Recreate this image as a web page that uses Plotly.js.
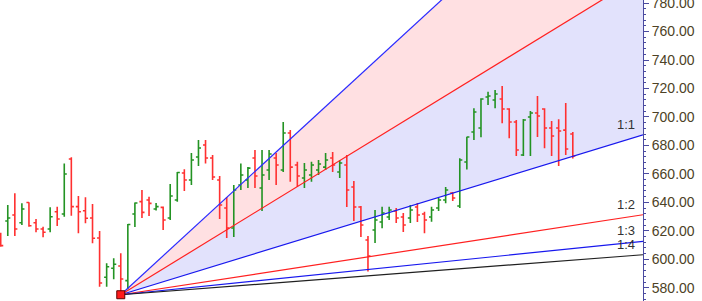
<!DOCTYPE html>
<html><head><meta charset="utf-8">
<script src="https://cdn.plot.ly/plotly-3.0.1.min.js"></script>
<style>html,body{margin:0;padding:0;background:#fff}#chart{width:702px;height:301px}</style>
</head><body><div id="chart"></div>
<script>
// OHLC values (bar index 0..81)
const barOpen  = [616.4,626.9,631.1,625.7,639.9,625.7,621.3,621.3,633.4,631.8,670.5,637.0,634.1,629.0,615.0,587.4,593.7,595.3,585.0,631.8,640.5,641.7,635.3,636.5,629.0,641.7,660.6,655.7,671.9,680.3,671.2,655.7,636.0,622.0,652.2,655.7,671.2,650.1,662.7,671.2,662.7,688.7,666.3,657.1,659.2,662.7,664.8,671.2,661.3,666.3,650.8,636.7,613.6,620.6,626.2,629.7,633.9,629.7,629.0,636.7,631.8,629.7,636.0,641.7,646.6,637.4,668.4,689.4,692.3,714.0,711.9,712.6,705.6,696.5,673.3,700.0,702.8,705.6,692.3,692.3,690.8,688.0];
const barHigh  = [618.7,638.2,646.4,639.3,640.0,628.3,622.9,636.5,637.0,667.4,671.7,644.5,643.6,638.9,619.9,597.2,600.7,604.2,624.8,639.9,648.7,644.0,639.6,637.1,652.9,661.3,663.2,674.7,683.8,683.8,673.3,658.5,643.8,652.2,667.4,664.8,676.8,676.8,676.8,674.7,696.5,690.8,668.6,667.7,668.6,669.8,674.7,675.4,669.8,673.3,655.0,637.4,616.4,634.6,637.0,637.0,636.0,632.5,638.2,639.6,633.4,637.0,643.1,650.8,647.3,671.0,686.1,706.1,713.1,717.8,719.0,721.8,706.1,697.9,698.6,704.2,714.7,706.1,697.2,698.4,709.8,689.4];
const barLow   = [608.9,616.4,616.4,624.1,622.9,619.0,615.5,619.0,623.4,629.9,630.6,618.3,625.3,611.2,580.7,580.7,585.9,575.1,578.9,622.7,629.0,630.4,634.3,620.6,627.6,640.5,648.0,652.2,665.6,667.4,655.7,628.3,615.0,615.7,648.7,650.1,650.1,633.9,655.7,652.2,661.3,654.5,651.0,650.1,654.5,659.2,662.7,661.3,657.1,636.7,626.9,615.7,591.4,611.5,621.8,627.6,625.5,619.2,625.5,626.2,618.3,626.4,633.9,639.3,641.0,636.0,663.1,683.8,685.7,708.4,706.1,695.6,685.0,672.6,672.6,672.6,685.9,678.0,672.6,665.6,673.3,670.8];
const barClose = [609.6,629.0,621.3,635.3,623.6,621.3,619.0,629.9,628.3,659.9,637.0,633.4,628.8,614.8,583.3,594.8,596.5,586.2,624.5,639.6,633.0,639.3,637.0,627.6,644.5,661.0,655.7,669.8,678.2,671.2,657.8,638.2,622.0,648.7,659.2,664.1,658.5,659.2,674.0,666.3,688.7,664.8,658.5,662.7,666.3,667.0,669.8,666.3,667.7,648.7,636.7,624.1,602.3,627.6,632.5,634.6,629.0,624.1,634.6,631.1,627.6,634.6,641.7,648.7,643.1,669.8,685.9,703.5,712.6,714.7,716.1,705.6,696.5,676.8,697.9,702.8,700.7,692.3,686.6,690.1,677.5,672.6];

// Gann fan: anchor bar/price, price units per bar, ratios
const fanAnchorIndex = 17;
const fanAnchorPrice = 575.1;
const fanUnit = 1.52;
const fanLabels = ['3:1','2:1','1:1','1:2','1:3','1:4'];
const fanRatios = [3, 2, 1, 1/2, 1/3, 1/4];
const fanColors = ['#2a2aff','#ff2020','#1818ee','#ff2020','#1818ee','#202020'];
const fanShown  = [false,false,true,true,true,true];

const yTickVals = [580,600,620,640,660,680,700,720,740,760,780];

const xMin = -0.1, xMax = 90.94;
const barIdx = barOpen.map((_, i) => i);

function fanY(r, x){ return fanAnchorPrice + (x - fanAnchorIndex) * fanUnit * r; }
const fanX = [fanAnchorIndex, xMax];

function band(rA, rB, color){
  const a0 = fanY(rA, fanX[0]), a1 = fanY(rA, fanX[1]);
  const b0 = fanY(rB, fanX[0]), b1 = fanY(rB, fanX[1]);
  return {type:'path', xref:'x', yref:'y', layer:'below', line:{width:0}, fillcolor:color,
    path:`M ${fanX[0]} ${a0} L ${fanX[1]} ${a1} L ${fanX[1]} ${b1} L ${fanX[0]} ${b0} Z`};
}
const shapes = [band(fanRatios[0], fanRatios[1], 'rgb(255,224,226)'),
                band(fanRatios[1], fanRatios[2], 'rgb(226,226,252)')];

const traces = [];
traces.push({
  type:'ohlc', x: barIdx, open: barOpen, high: barHigh, low: barLow, close: barClose,
  increasing:{line:{color:'#239323', width:1.6}},
  decreasing:{line:{color:'#ff3030', width:1.6}},
  tickwidth:0.36, showlegend:false, hoverinfo:'skip'
});

fanRatios.forEach((r, k) => {
  traces.push({x: fanX, y: fanX.map(x => fanY(r, x)), mode:'lines',
    line:{color: fanColors[k], width: 1.2}, hoverinfo:'skip', showlegend:false});
});

traces.push({x:[fanAnchorIndex], y:[fanAnchorPrice], mode:'markers',
  marker:{symbol:'square', size:8, color:'#ff1a1a', line:{color:'#600000', width:1}},
  showlegend:false, hoverinfo:'skip', cliponaxis:false});

const annotations = fanLabels.map((t, k) => ({
  x: xMax, y: fanY(fanRatios[k], xMax), xref:'x', yref:'y', text: t,
  showarrow:false, xanchor:'right', yanchor:'bottom', xshift:-6, yshift:1,
  font:{family:'Liberation Sans, Arial, sans-serif', size:13, color:'#333333'}
})).filter((a, k) => fanShown[k]);

const layout = {
  width:702, height:301,
  margin:{l:0, r:59, t:0, b:0, pad:0},
  paper_bgcolor:'#ffffff', plot_bgcolor:'#ffffff',
  showlegend:false,
  shapes: shapes,
  xaxis:{range:[xMin, xMax], visible:false, rangeslider:{visible:false}, fixedrange:true},
  yaxis:{range:[570.7, 782.2], side:'right', showgrid:false, zeroline:false,
    showline:true, linecolor:'#4a4aa0', linewidth:1,
    ticks:'outside', ticklen:5, tickcolor:'#4a4aa0', tickwidth:1,
    tickvals: yTickVals, ticktext: yTickVals.map(v => v.toFixed(2)),
    ticklabeloverflow:'allow',
    minor:{dtick:4, ticks:'outside', ticklen:2, tickcolor:'#4a4aa0'},
    tickfont:{family:'Liberation Sans, Arial, sans-serif', size:14, color:'#4d4226'},
    fixedrange:true},
  annotations: annotations
};

Plotly.newPlot('chart', traces, layout, {displayModeBar:false, staticPlot:true});
</script>
</body></html>
